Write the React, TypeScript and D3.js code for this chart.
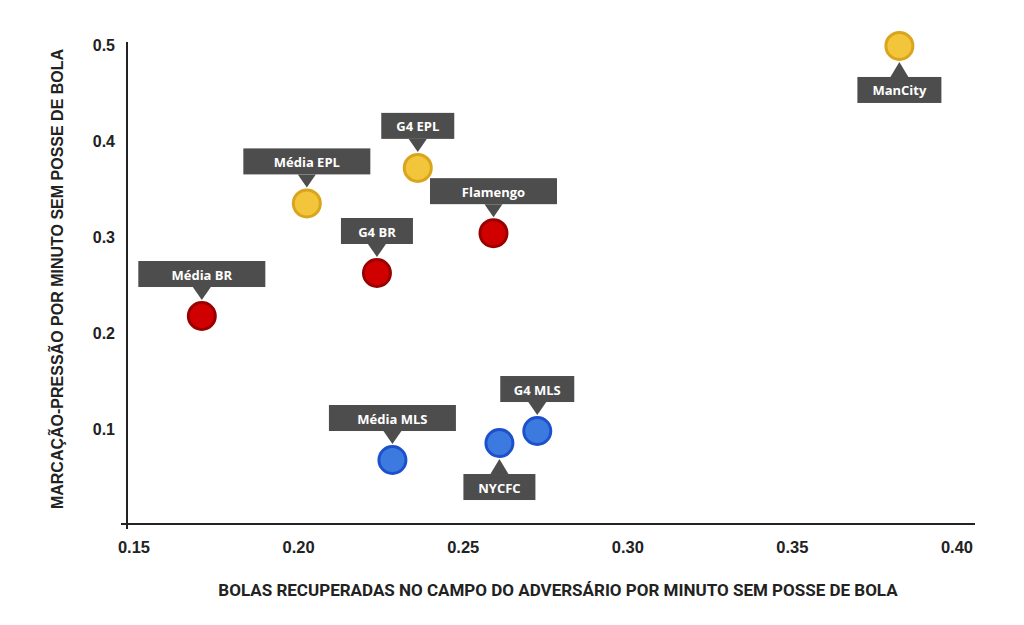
import React from 'react';
import * as d3 from 'd3';

// ---- data ----
const teams = ['Média BR', 'G4 BR', 'Flamengo', 'Média EPL', 'G4 EPL', 'ManCity', 'Média MLS', 'NYCFC', 'G4 MLS'];
const leagues = ['BR', 'BR', 'BR', 'EPL', 'EPL', 'EPL', 'MLS', 'MLS', 'MLS'];
const recoveries = [0.1706, 0.2238, 0.2592, 0.2025, 0.2362, 0.3825, 0.2285, 0.261, 0.2725];
const pressures = [0.2177, 0.2625, 0.304, 0.335, 0.372, 0.499, 0.0677, 0.0854, 0.0979];
const xTicks = [0.15, 0.2, 0.25, 0.3, 0.35, 0.4];
const xTickLabels = ['0.15', '0.20', '0.25', '0.30', '0.35', '0.40'];
const yTicks = [0.1, 0.2, 0.3, 0.4, 0.5];
const yTickLabels = ['0.1', '0.2', '0.3', '0.4', '0.5'];
const xTitle = 'BOLAS RECUPERADAS NO CAMPO DO ADVERSÁRIO POR MINUTO SEM POSSE DE BOLA';
const yTitle = 'MARCAÇÃO-PRESSÃO POR MINUTO SEM POSSE DE BOLA';

// ---- styles / layout ----
const leagueFill: Record<string, string> = { BR: '#d00000', EPL: '#f3c53a', MLS: '#3d7ae0' };
const leagueStroke: Record<string, string> = { BR: '#9a0000', EPL: '#d9a51c', MLS: '#1d50cc' };
const calloutWidth: Record<string, number> = {
  'Média BR': 127, 'G4 BR': 72, 'Flamengo': 127, 'Média EPL': 127, 'G4 EPL': 73,
  'ManCity': 84, 'Média MLS': 127, 'NYCFC': 72, 'G4 MLS': 74,
};
const calloutBelow = new Set(['ManCity', 'NYCFC']);

export default function App() {
  const W = 1024, H = 625;
  const x = d3.scaleLinear().domain([0.15, 0.4]).range([134, 957]);
  const y = d3.scaleLinear().domain([0, 0.5]).range([525, 45]);
  const r = 13.5, sw = 3, outer = r + sw / 2;
  const boxH = 26;
  const axisFont = '"Liberation Sans", Arial, sans-serif';

  return (
    <svg width={W} height={H} style={{ position: 'absolute', left: 0, top: 0, background: '#fff' }}>
      <rect width={W} height={H} fill="#fff" />
      {/* axes */}
      <line x1={x(0.15) - 7} x2={x(0.15) - 7} y1={42} y2={529} stroke="#222" strokeWidth={2} />
      <line x1={x(0.15) - 13} x2={975} y1={y(0) - 1} y2={y(0) - 1} stroke="#222" strokeWidth={2} />
      {yTicks.map((t, i) => (
        <text key={'y' + i} x={115} y={y(t)} textAnchor="end" dominantBaseline="central"
          fontFamily={axisFont} fontWeight="bold" fontSize={16} fill="#222">{yTickLabels[i]}</text>
      ))}
      {xTicks.map((t, i) => (
        <text key={'x' + i} x={x(t)} y={547} textAnchor="middle" dominantBaseline="central"
          fontFamily={axisFont} fontWeight="bold" fontSize={16.5} fill="#222">{xTickLabels[i]}</text>
      ))}
      <text x={558} y={590} textAnchor="middle" dominantBaseline="central" fontFamily="Roboto, sans-serif"
        fontWeight="bold" fontSize={17} fill="#222">{xTitle}</text>
      <text transform={`translate(57,279) rotate(-90)`} textAnchor="middle" dominantBaseline="central"
        fontFamily={axisFont} fontWeight="bold" fontSize={16} fill="#222">{yTitle}</text>

      {/* points with callouts */}
      {teams.map((name, i) => {
        const cx = x(recoveries[i]);
        const cy = y(pressures[i]);
        const lg = leagues[i];
        const below = calloutBelow.has(name);
        const bw = calloutWidth[name];
        const boxY = below ? cy + outer + 16 : cy - outer - 14 - boxH;
        const baseY = below ? boxY : boxY + boxH;
        const tipY = below ? cy + outer + 1 : cy - outer - 1;
        const tri = `M${cx - 9},${baseY} L${cx + 9},${baseY} L${cx},${tipY} Z`;
        return (
          <g key={name}>
            <rect x={cx - bw / 2} y={boxY} width={bw} height={boxH} fill="#4d4d4d" />
            <path d={tri} fill="#4d4d4d" />
            <text x={cx} y={boxY + boxH / 2 + 0.5} textAnchor="middle" dominantBaseline="central"
              fontFamily='"Open Sans", sans-serif' fontWeight="bold" fontSize={13} fill="#fff">{name}</text>
            <circle cx={cx} cy={cy} r={r} fill={leagueFill[lg]} stroke={leagueStroke[lg]} strokeWidth={sw} />
          </g>
        );
      })}
    </svg>
  );
}
